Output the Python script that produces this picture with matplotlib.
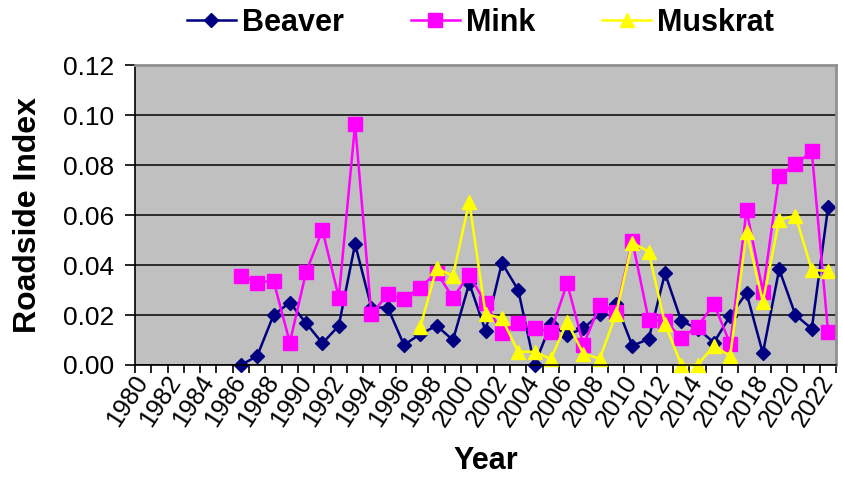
import numpy as np
import matplotlib
matplotlib.use("Agg")
import matplotlib.pyplot as plt
from matplotlib.ticker import FixedLocator, FormatStrFormatter

plt.rcParams['font.family'] = ['Liberation Sans', 'DejaVu Sans']

years = np.arange(1980, 2023)

# values
beaver = [0.000, 0.0036, 0.020, 0.025, 0.0167, 0.0087, 0.0157, 0.0484, 0.023, 0.023,
          0.008, 0.0124, 0.0157, 0.010, 0.0327, 0.0137, 0.0409, 0.030, 0.000, 0.0164,
          0.012, 0.0147, 0.0204, 0.0245, 0.0077, 0.0104, 0.0367, 0.0176, 0.0145, 0.009,
          0.0197, 0.0288, 0.0047, 0.0383, 0.020, 0.0145, 0.0632]
mink = [0.0357, 0.033, 0.0337, 0.009, 0.0373, 0.054, 0.027, 0.0963, 0.0203, 0.0283,
        0.0264, 0.031, 0.037, 0.027, 0.036, 0.0247, 0.013, 0.0167, 0.0147, 0.0133,
        0.0327, 0.008, 0.024, 0.0213, 0.0496, 0.018, 0.0176, 0.011, 0.0153, 0.0245,
        0.0084, 0.062, 0.0293, 0.0758, 0.0803, 0.0855, 0.0131]
muskrat = [0.0153, 0.0387, 0.0357, 0.0653, 0.0204, 0.0187, 0.0053, 0.0053, 0.0024, 0.0172,
           0.0045, 0.0025, 0.0204, 0.049, 0.0453, 0.0165, 0.0, 0.0, 0.0077, 0.0036,
           0.0533, 0.0253, 0.058, 0.0598, 0.038, 0.0377]


def pad(vals, first):
    out = np.full(len(years), np.nan)
    out[first - 1980:] = vals
    return out


fig = plt.figure(figsize=(8.43, 4.79), dpi=100)
ax = fig.add_axes([0.160, 0.238, 0.832, 0.626])
ax.set_facecolor('#C0C0C0')

ax.plot(years, pad(beaver, 1986), color='#000080', lw=1.8, marker='D', ms=7.5,
        label='Beaver', clip_on=False)
ax.plot(years, pad(mink, 1986), color='#FF00FF', lw=1.8, marker='s', ms=9.5,
        label='Mink', clip_on=False)
ax.plot(years, pad(muskrat, 1997), color='#FFFF00', lw=1.8, marker='^', ms=10,
        label='Muskrat', clip_on=False)

ax.set_xlim(1979.5, 2022.5)
ax.set_ylim(0, 0.12)
ax.set_yticks(np.arange(0, 0.121, 0.02))
ax.yaxis.set_major_formatter(FormatStrFormatter('%.2f'))
ax.grid(axis='y', color='#202020', lw=1.3)
ax.set_axisbelow(True)

# category axis: tick marks between years, labels every other year
ax.xaxis.set_major_locator(FixedLocator(years[::2]))
ax.xaxis.set_minor_locator(FixedLocator(np.arange(1979.5, 2023, 1)))
ax.tick_params(axis='x', which='major', length=0, pad=9)
ax.tick_params(axis='x', which='minor', length=6, width=1.2, direction='out')
ax.tick_params(axis='y', length=7, width=1.2, direction='out', labelsize=19, pad=8)
ax.set_xticklabels([str(y) for y in years[::2]], rotation=57, ha='right',
                   va='center', rotation_mode='anchor', fontsize=18)

for s in ['top', 'right']:
    ax.spines[s].set_color('#909090')
    ax.spines[s].set_linewidth(2)
for s in ['left', 'bottom']:
    ax.spines[s].set_color('black')
    ax.spines[s].set_linewidth(1.2)

ax.set_ylabel('Roadside Index', fontsize=23, fontweight='bold', labelpad=14)
ax.set_xlabel('Year', fontsize=22, fontweight='bold', labelpad=11)

fig.legend(loc='center', bbox_to_anchor=(0.57, 0.952), ncol=3, frameon=False,
           prop={'size': 22, 'weight': 'bold'}, handlelength=1.6,
           handletextpad=0.2, columnspacing=2.2)

fig.savefig('out.png', dpi=100)
